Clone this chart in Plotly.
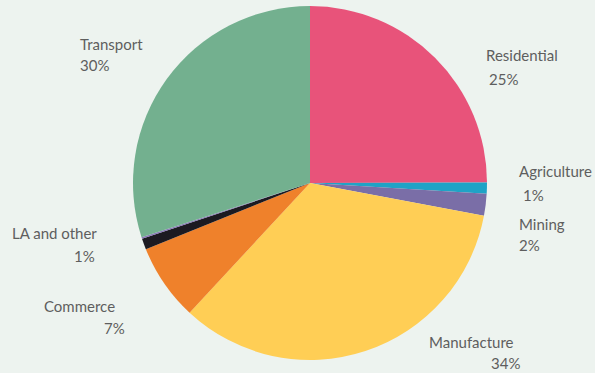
import plotly.graph_objects as go

# Energy use by sector (percent share), drawn clockwise from 12 o'clock
sectors = ["Residential", "Agriculture", "Mining", "Manufacture",
           "Commerce", "LA and other", "Other", "Transport"]
shares = [25, 1, 2, 34, 7, 1, 0.15, 30]
colors = ["#E8537A", "#1FA3C6", "#7A6EA7", "#FFCE55",
          "#EF812B", "#1C1A21", "#8A78B8", "#73B08F"]

# Label placement (pixel coords of the left edge of each line) for the labelled sectors
label_pos = {
    "Residential": [(484, 55), (487, 79)],
    "Agriculture": [(517, 171), (521, 195)],
    "Mining": [(517, 224), (517, 245)],
    "Manufacture": [(427, 342), (489, 363)],
    "Commerce": [(42, 306), (102, 328)],
    "LA and other": [(10, 233), (72, 256)],
    "Transport": [(78, 44), (78, 65)],
}

W, H = 595, 373
BG = "#EDF3EF"
TXT = "#5E5E5E"
FONT = "Lato"

# Pie circle: centre (310, 183), radius 177 px
cx, cy, r = 310, 183, 177

fig = go.Figure(go.Pie(
    labels=sectors,
    values=shares,
    sort=False,
    direction="clockwise",
    rotation=0,
    marker=dict(colors=colors, line=dict(width=0)),
    textinfo="none",
    hoverinfo="label+value",
    showlegend=False,
    domain=dict(x=[(cx - r) / W, (cx + r) / W],
                y=[(H - cy - r) / H, (H - cy + r) / H]),
))

annotations = []
for name, val in zip(sectors, shares):
    if name not in label_pos:
        continue
    (x1, y1), (x2, y2) = label_pos[name]
    for (x, y), txt in (((x1, y1), name), ((x2, y2), f"{val:g}%")):
        annotations.append(dict(
            x=x / W, y=1 - y / H, xref="paper", yref="paper",
            xanchor="left", yanchor="middle", showarrow=False,
            text=txt, font=dict(family=FONT, size=15, color=TXT),
        ))

fig.update_layout(
    width=W, height=H,
    margin=dict(l=0, r=0, t=0, b=0),
    paper_bgcolor=BG, plot_bgcolor=BG,
    annotations=annotations,
)

fig.write_html("out.html")
